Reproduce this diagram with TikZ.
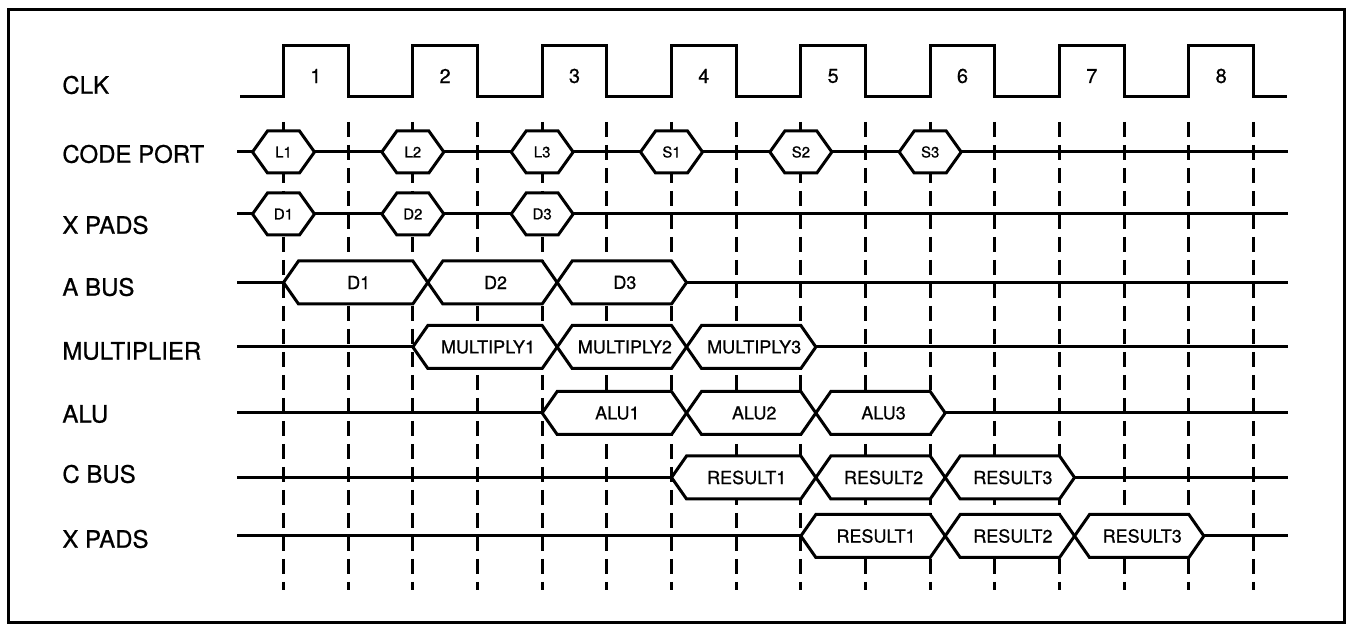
\documentclass[tikz,border=0pt]{standalone}
\usepackage{fontspec}
\setmainfont{TeX Gyre Heros}
\newfontfamily\scanfont{TeX Gyre Heros}[FakeBold=0.7]
\newcommand{\kx}[1]{283.5+64.67*(#1)}
\newcommand{\hexsmall}[4]{%
  \draw[hexbox] ({#2-31},{#3}) -- ({#2-16},{#3-21}) -- ({#2+16},{#3-21}) -- ({#2+31},{#3}) -- ({#2+16},{#3+21}) -- ({#2-16},{#3+21}) -- cycle;
  \node[hx] (#1) at ({#2},{#3}) {#4};}
\newcommand{\busbox}[5]{%
  \draw[hexbox] ({#2},{#4}) -- ({#2+15},{#4-21.5}) -- ({#3-15},{#4-21.5}) -- ({#3},{#4}) -- ({#3-15},{#4+21.5}) -- ({#2+15},{#4+21.5}) -- cycle;
  \node[bx] (#1) at ({(#2+#3)/2+3},{#4}) {#5};}
\begin{document}
\begin{tikzpicture}[x=0.5pt,y=-0.5pt,
  sig/.style={line width=1.5pt},
  dsh/.style={line width=1.4pt, dash pattern=on 7.5pt off 4pt},
  frm/.style={line width=1.5pt},
  hexbox/.style={line width=1.5pt, fill=white, line join=miter},
  lbl/.style={anchor=west, inner sep=0pt, font=\scanfont\fontsize{12}{14}\selectfont},
  hx/.style={inner sep=0pt, font=\scanfont\fontsize{7.5}{8}\selectfont},
  bx/.style={inner sep=0pt, font=\scanfont\fontsize{9}{10}\selectfont},
  num/.style={inner sep=0pt, font=\scanfont\fontsize{10}{11}\selectfont}]
\useasboundingbox (0,0) rectangle (1350,625);
\fill[white] (0,0) rectangle (1350,625);
% frame
\draw[frm] (8,9.5) rectangle (1344,622);
% row labels
\node[lbl] (lclk) at (62,85) {CLK};
\node[lbl] (lcp) at (62,154) {CODE PORT};
\node[lbl] (lxp1) at (62,225) {X PADS};
\node[lbl] (lab) at (62,287) {A BUS};
\node[lbl] (lmul) at (62,351) {MULTIPLIER};
\node[lbl] (lalu) at (62,414) {ALU};
\node[lbl] (lcb) at (62,474) {C BUS};
\node[lbl] (lxp2) at (62,539) {X PADS};
% clock
\draw[sig, line join=miter] (240,96.5)
  \foreach \i in {0,...,7} { -- ({\kx{2*\i}},96.5) -- ({\kx{2*\i}},45.5) -- ({\kx{2*\i+1}},45.5) -- ({\kx{2*\i+1}},96.5) }
  -- (1287,96.5);
\foreach \i [evaluate=\i as \j using int(\i+1)] in {0,...,7}
  \node[num] (n\j) at ({\kx{2*\i}+32.3},76) {\j};
% signal lines
\foreach \yy in {152,214,282.5,347,413,477.5,536}
  \draw[sig] (237,\yy) -- (1288,\yy);
% dashed cycle lines
\foreach \k in {0,...,15}
  \draw[dsh] ({\kx{\k}},122) -- ({\kx{\k}},590);
% code port
\hexsmall{cp1}{\kx{0}}{152}{L1}
\hexsmall{cp2}{\kx{2}}{152}{L2}
\hexsmall{cp3}{\kx{4}}{152}{L3}
\hexsmall{cp4}{\kx{6}}{152}{S1}
\hexsmall{cp5}{\kx{8}}{152}{S2}
\hexsmall{cp6}{\kx{10}}{152}{S3}
% x pads (data in)
\hexsmall{xa1}{\kx{0}}{214}{D1}
\hexsmall{xa2}{\kx{2}}{214}{D2}
\hexsmall{xa3}{\kx{4}}{214}{D3}
% A bus
\busbox{ab1}{\kx{0}}{\kx{2}+15}{282.5}{D1}
\busbox{ab2}{\kx{2}+15}{\kx{4}+15}{282.5}{D2}
\busbox{ab3}{\kx{4}+15}{\kx{6}+15}{282.5}{D3}
% multiplier
\busbox{mu1}{\kx{2}}{\kx{4}+15}{347}{MULTIPLY1}
\busbox{mu2}{\kx{4}+15}{\kx{6}+15}{347}{MULTIPLY2}
\busbox{mu3}{\kx{6}+15}{\kx{8}+15}{347}{MULTIPLY3}
% alu
\busbox{al1}{\kx{4}}{\kx{6}+15}{413}{ALU1}
\busbox{al2}{\kx{6}+15}{\kx{8}+15}{413}{ALU2}
\busbox{al3}{\kx{8}+15}{\kx{10}+15}{413}{ALU3}
% C bus
\busbox{cb1}{\kx{6}}{\kx{8}+15}{477.5}{RESULT1}
\busbox{cb2}{\kx{8}+15}{\kx{10}+15}{477.5}{RESULT2}
\busbox{cb3}{\kx{10}+15}{\kx{12}+15}{477.5}{RESULT3}
% X pads (results out)
\busbox{xb1}{\kx{8}}{\kx{10}+15}{536}{RESULT1}
\busbox{xb2}{\kx{10}+15}{\kx{12}+15}{536}{RESULT2}
\busbox{xb3}{\kx{12}+15}{\kx{14}+15}{536}{RESULT3}
\end{tikzpicture}
\end{document}
